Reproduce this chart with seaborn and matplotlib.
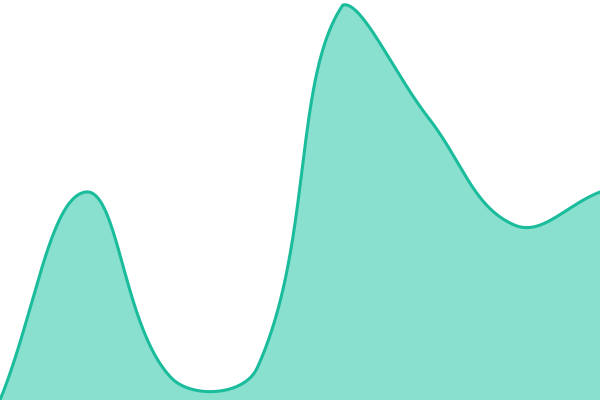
import numpy as np
import pandas as pd
import matplotlib
matplotlib.use("Agg")
import matplotlib.pyplot as plt
import seaborn as sns

# Data
positions = [0, 1, 2, 3, 4, 5, 6, 7]
values = [0, 208, 22, 32, 395, 282, 175, 208]

Y_MAX = 400
TENSION = 0.4

sns.set_style("white")
fig = plt.figure(figsize=(6, 4), dpi=100)
ax = fig.add_axes([0, 0, 1, 1])
ax.set_xlim(0, 7)
ax.set_ylim(0, Y_MAX)
ax.axis("off")

# Chart.js-like spline: control points computed in pixel space, capped to area
W, H = 600.0, 400.0
px = np.array(positions, float) * W / 7.0
py = H - np.array(values, float) * H / Y_MAX
n = len(px)
cp_prev = np.zeros((n, 2))
cp_next = np.zeros((n, 2))
for i in range(n):
    p1 = np.array([px[i], py[i]])
    p0 = np.array([px[i - 1], py[i - 1]]) if i > 0 else p1
    p2 = np.array([px[i + 1], py[i + 1]]) if i < n - 1 else p1
    d01 = np.hypot(*(p1 - p0))
    d12 = np.hypot(*(p2 - p1))
    tot = d01 + d12
    s01 = d01 / tot if tot else 0
    s12 = d12 / tot if tot else 0
    fa = TENSION * s01
    fb = TENSION * s12
    c1 = p1 - fa * (p2 - p0)
    c2 = p1 + fb * (p2 - p0)
    c1 = np.array([np.clip(c1[0], 0, W), np.clip(c1[1], 0, H)])
    c2 = np.array([np.clip(c2[0], 0, W), np.clip(c2[1], 0, H)])
    cp_prev[i] = c1
    cp_next[i] = c2

t = np.linspace(0, 1, 80)[:, None]
segs = []
for i in range(n - 1):
    P0 = np.array([px[i], py[i]])
    P1 = cp_next[i]
    P2 = cp_prev[i + 1]
    P3 = np.array([px[i + 1], py[i + 1]])
    b = ((1 - t) ** 3) * P0 + 3 * ((1 - t) ** 2) * t * P1 + 3 * (1 - t) * t ** 2 * P2 + t ** 3 * P3
    segs.append(b if i == 0 else b[1:])
curve = np.vstack(segs)
cx = curve[:, 0] * 7.0 / W
cy = (H - curve[:, 1]) * Y_MAX / H

df = pd.DataFrame({"x": cx, "y": cy})
ax.fill_between(df["x"], 0, df["y"], color="#89E0CF", linewidth=0, zorder=1)
sns.lineplot(data=df, x="x", y="y", sort=False, color="#1ABC9C", linewidth=2.2,
             ax=ax, zorder=2, estimator=None)
ax.set_xlim(0, 7)
ax.set_ylim(0, Y_MAX)
ax.axis("off")

fig.savefig("out.png", dpi=100)
